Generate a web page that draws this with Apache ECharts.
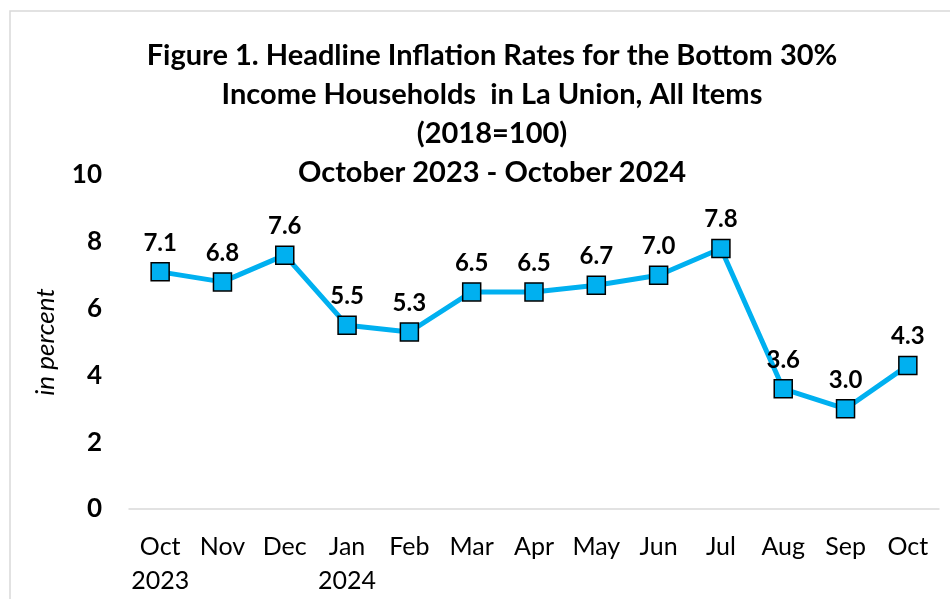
<!DOCTYPE html>
<html>
<head>
<meta charset="utf-8">
<script src="https://cdn.jsdelivr.net/npm/echarts@6/dist/echarts.min.js"></script>
<style>
  html, body { margin: 0; padding: 0; background: #fff; }
  #chart { width: 950px; height: 599px; }
</style>
</head>
<body>
<div id="chart"></div>
<script>
  // data
  const months = ['Oct\n2023', 'Nov', 'Dec', 'Jan\n2024', 'Feb', 'Mar', 'Apr', 'May', 'Jun', 'Jul', 'Aug', 'Sep', 'Oct']
  const inflation = [7.1, 6.8, 7.6, 5.5, 5.3, 6.5, 6.5, 6.7, 7.0, 7.8, 3.6, 3.0, 4.3]
  const titleLines = [
    'Figure 1. Headline Inflation Rates for the Bottom 30%',
    'Income Households  in La Union, All Items',
    '(2018=100)',
    'October 2023 - October 2024',
  ]

  const font = 'Lato, "Open Sans", sans-serif'
  const myChart = echarts.init(document.getElementById('chart'))

  const option = {
    backgroundColor: '#fff',
    textStyle: { fontFamily: font },
    graphic: [
      {
        type: 'rect',
        shape: { x: 10, y: 11, width: 960, height: 620 },
        style: { fill: 'none', stroke: '#d9d9d9', lineWidth: 1.5 },
        silent: true,
      },
    ],
    title: {
      text: titleLines.join('\n'),
      left: 487,
      top: 31,
      textAlign: 'center',
      textStyle: {
        fontFamily: font,
        fontSize: 29,
        fontWeight: 'bold',
        color: '#000',
        lineHeight: 39,
      },
    },
    grid: {
      left: 129,
      right: 11,
      top: 175,
      bottom: 90,
      containLabel: false,
    },
    xAxis: {
      type: 'category',
      data: months,
      boundaryGap: true,
      axisLine: { lineStyle: { color: '#d9d9d9', width: 1.5 } },
      axisTick: { show: false },
      axisLabel: {
        color: '#000',
        fontFamily: font,
        fontSize: 25,
        lineHeight: 34,
        margin: 21,
        interval: 0,
      },
    },
    yAxis: {
      type: 'value',
      min: 0,
      max: 10,
      interval: 2,
      name: 'in percent',
      nameLocation: 'middle',
      nameGap: 70,
      nameRotate: 90,
      nameTextStyle: {
        color: '#000',
        fontFamily: font,
        fontSize: 26,
        fontStyle: 'italic',
      },
      axisLine: { show: false },
      axisTick: { show: false },
      splitLine: { show: false },
      axisLabel: {
        color: '#000',
        fontFamily: font,
        fontSize: 26,
        fontWeight: 'bold',
        margin: 27,
      },
    },
    series: [
      {
        type: 'line',
        data: inflation,
        symbol: 'rect',
        symbolSize: 18,
        lineStyle: { color: '#00b0f0', width: 5 },
        itemStyle: { color: '#00b0f0', borderColor: '#000', borderWidth: 1.5 },
        label: {
          show: true,
          position: 'top',
          distance: 7,
          color: '#000',
          fontFamily: font,
          fontSize: 24,
          fontWeight: 'bold',
          formatter: (p) => p.value.toFixed(1),
        },
        z: 3,
      },
    ],
  }
  myChart.setOption(option)
</script>
</body>
</html>
